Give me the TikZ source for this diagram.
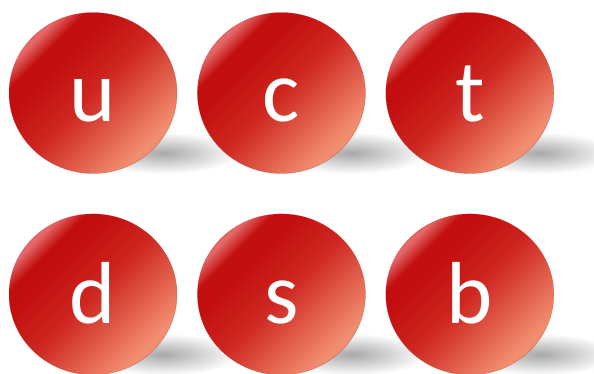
\documentclass[tikz,border=0pt]{standalone}
\usepackage{fontspec}
\newfontfamily\quarkfont{Carlito}
\usetikzlibrary{positioning, calc, backgrounds, shapes.geometric}
\definecolor{quarkdark}{RGB}{194,14,14}
\definecolor{quarkred}{RGB}{206,38,32}
\definecolor{quarklight}{RGB}{242,142,112}
\definecolor{quarkpink}{RGB}{228,104,104}
\definecolor{quarkrim}{RGB}{180,50,44}
\definecolor{shadowgray}{RGB}{168,168,168}
\pgfdeclareverticalshading{quarkshade}{100bp}{
  color(0bp)=(quarklight); color(27bp)=(quarklight); color(50bp)=(quarkred);
  color(64bp)=(quarkdark); color(69bp)=(quarkdark); color(74bp)=(quarkpink);
  color(100bp)=(quarkpink)}
\tikzset{
  quark/.style={
    ellipse, minimum width=168pt, minimum height=161pt, inner sep=0pt,
    shading=quarkshade, shading angle=45,
    draw=quarkrim, draw opacity=0.5, line width=0.4pt,
    text=white, font=\quarkfont\fontsize{88}{88}\selectfont,
    text height=58pt, text depth=0pt
  },
  groundshadow/.style={inner color=shadowgray, outer color=white}
}
\begin{document}
\begin{tikzpicture}[x=1pt, y=1pt]
  \useasboundingbox (0,0) rectangle (594,374);

  \node[quark] (u) at (93,281) {u};
  \node[quark, right=20pt of u] (c) {c};
  \node[quark, right=20pt of c] (t) {t};
  \node[quark, below=40pt of u] (d) {d};
  \node[quark, below=40pt of c] (s) {s};
  \node[quark, below=40pt of t] (b) {b};

  \begin{scope}[on background layer]
    \foreach \q in {u,c,t,d,s,b}
      \shade[groundshadow] ($(\q.center)+(70,-60)$) ellipse (76 and 21);
  \end{scope}
\end{tikzpicture}
\end{document}
